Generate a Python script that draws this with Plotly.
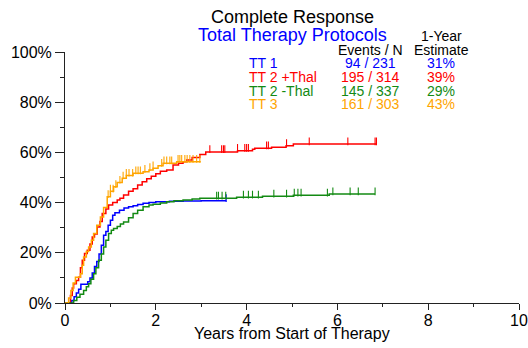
import plotly.graph_objects as go
import bisect

# ---- data ----
series_names = ["TT 1", "TT 2 +Thal", "TT 2 -Thal", "TT 3"]
series_colors = ["#0000FF", "#FF0000", "#138A13", "#FFA500"]
events_n = ["94 / 231", "195 / 314", "145 / 337", "161 / 303"]
one_year = ["31%", "39%", "29%", "43%"]

tt1_t = [0, 0.15, 0.20, 0.25, 0.30, 0.35, 0.50, 0.55, 0.60, 0.65, 0.70, 0.75, 0.80, 0.85, 0.90,
         0.95, 1.00, 1.05, 1.10, 1.20, 1.30, 1.40, 1.50, 1.60, 1.72, 1.85, 2.00, 2.30, 2.60, 3.00, 3.55]
tt1_y = [0, 1.0, 2.5, 4.0, 5.5, 7.5, 8.5, 10, 12, 14.5, 16.5, 19.5, 23, 27, 28.5,
         31, 33, 35, 36, 37, 37.8, 38.3, 38.7, 39.2, 39.7, 40.0, 40.3, 40.5, 40.6, 40.7, 40.7]
tt1_cens = [3.55]

tt2p_t = [0, 0.12, 0.16, 0.19, 0.25, 0.30, 0.34, 0.38, 0.43, 0.49, 0.55, 0.60, 0.65, 0.71, 0.77,
          0.82, 0.90, 0.96, 1.05, 1.15, 1.21, 1.29, 1.40, 1.50, 1.60, 1.70, 1.80, 1.90, 2.00, 2.10,
          2.24, 2.38, 2.50, 2.60, 2.68, 2.80, 2.97, 3.10, 3.80, 4.13, 4.18, 4.55, 4.87, 5.03, 6.87]
tt2p_y = [0, 3, 6, 7.7, 9, 10.3, 14, 17, 19.7, 21, 23.5, 26.3, 27.5, 30.3, 32.5,
          35.7, 37.5, 39, 40, 41, 41.7, 43, 44.5, 45.5, 47, 48.3, 49.5, 50.5, 51.5, 52.5,
          53, 55, 55.7, 56.3, 57, 58, 59.2, 60.2, 60.7, 61.3, 61.7, 62.1, 62.6, 63.3, 63.3]
tt2p_cens = [3.19, 3.45, 3.49, 3.52, 3.80, 3.96, 4.00, 4.04, 4.44, 4.48, 4.88, 5.38, 6.23, 6.83, 6.86]

tt2m_t = [0, 0.19, 0.26, 0.33, 0.41, 0.47, 0.52, 0.57, 0.63, 0.68, 0.74, 0.80, 0.85, 0.90, 0.96,
          1.02, 1.07, 1.15, 1.22, 1.29, 1.40, 1.50, 1.60, 1.72, 1.85, 1.94, 2.10, 2.24, 2.40, 2.60,
          2.80, 2.97, 3.78, 4.35, 5.03, 5.82, 6.83]
tt2m_y = [0, 1.0, 2.3, 3.5, 5.0, 6.5, 7.7, 9.5, 11.7, 14, 17, 19.5, 22.3, 25, 27.7,
          29, 29.7, 30.5, 31.5, 32.3, 34, 35.7, 37, 38.3, 39, 39.3, 39.8, 40.3, 40.7, 41.0,
          41.4, 41.7, 42.1, 42.5, 42.9, 43.4, 43.4]
tt2m_cens = [3.34, 3.38, 3.46, 3.54, 3.93, 4.04, 4.13, 4.26, 4.60, 4.88, 5.05, 5.13, 5.20,
             5.78, 5.90, 6.28, 6.46, 6.83]

tt3_t = [0, 0.08, 0.13, 0.18, 0.23, 0.34, 0.38, 0.41, 0.47, 0.52, 0.58, 0.63, 0.70, 0.78, 0.85,
         0.93, 1.00, 1.07, 1.15, 1.26, 1.35, 1.50, 1.72, 1.85, 1.94, 2.05, 2.16, 2.46, 2.99]
tt3_y = [0, 2, 5, 8, 10.3, 11.7, 15, 18.3, 20.5, 22.3, 25, 27.7, 31, 34.3, 38,
         42.3, 44.5, 46.3, 48, 49.7, 50.8, 51.7, 52.3, 53, 53.7, 54.7, 55.7, 56.3, 56.3]
tt3_cens = [0.95, 1.00, 1.06, 1.12, 1.21, 1.28, 1.35, 1.41, 1.49, 1.56, 1.61, 1.66, 1.76, 1.87,
            1.94, 2.13, 2.18, 2.24, 2.31, 2.35, 2.49, 2.53, 2.57, 2.64, 2.69, 2.75, 2.82, 2.90, 2.97]

x_ticks = [0, 2, 4, 6, 8, 10]
y_ticks = [0, 20, 40, 60, 80, 100]

FONT = "Arial, 'Liberation Sans', sans-serif"

fig = go.Figure()


def step_at(ts, ys, t):
    i = bisect.bisect_right(ts, t) - 1
    return ys[max(i, 0)]


all_series = [(tt1_t, tt1_y, tt1_cens), (tt2p_t, tt2p_y, tt2p_cens),
              (tt2m_t, tt2m_y, tt2m_cens), (tt3_t, tt3_y, tt3_cens)]

for (ts, ys, cens), name, col in zip(all_series, series_names, series_colors):
    fig.add_trace(go.Scatter(x=ts, y=ys, mode="lines", line=dict(color=col, width=1.5, shape="hv"),
                             name=name, showlegend=False, cliponaxis=False))
    cy = [step_at(ts, ys, c) + 1.1 for c in cens]
    fig.add_trace(go.Scatter(x=cens, y=cy, mode="markers",
                             marker=dict(symbol="line-ns", size=5.5, line=dict(color=col, width=1.1)),
                             showlegend=False, hoverinfo="skip"))

W, H = 528, 348
L, R, T, B = 65, 9, 52, 45

ann = []
ann.append(dict(text="Complete Response", x=292, y=17, font=dict(size=18, color="black")))
ann.append(dict(text="Total Therapy Protocols", x=292, y=35, font=dict(size=18, color="#0000FF")))
ann.append(dict(text="1-Year", x=441, y=36, font=dict(size=14, color="black")))
ann.append(dict(text="Events / N", x=370, y=50, font=dict(size=14, color="black")))
ann.append(dict(text="Estimate", x=441, y=50, font=dict(size=14, color="black")))
row_y = [63.5, 77, 90.5, 104]
for i in range(4):
    ann.append(dict(text=series_names[i], x=247, y=row_y[i], xanchor="left",
                    font=dict(size=14, color=series_colors[i])))
    ann.append(dict(text=events_n[i], x=370, y=row_y[i], font=dict(size=14, color=series_colors[i])))
    ann.append(dict(text=one_year[i], x=441, y=row_y[i], font=dict(size=14, color=series_colors[i])))
ann.append(dict(text="Years from Start of Therapy", x=292, y=333, font=dict(size=16, color="black")))

annotations = []
for a in ann:
    d = dict(text=a["text"], xref="paper", yref="paper", showarrow=False,
             xanchor=a.get("xanchor", "center"), yanchor="middle",
             font=dict(family=FONT, **a["font"]))
    d["x"] = (a["x"] - L) / (W - L - R)
    d["y"] = 1 - (a["y"] - T) / (H - T - B)
    annotations.append(d)

fig.update_layout(
    width=W, height=H,
    margin=dict(l=L, r=R, t=T, b=B, autoexpand=False),
    paper_bgcolor="white", plot_bgcolor="white",
    font=dict(family=FONT, size=16, color="black"),
    annotations=annotations,
    showlegend=False,
    xaxis=dict(range=[0, 10], tickvals=x_ticks, ticktext=[str(v) for v in x_ticks],
               showgrid=False, zeroline=False, showline=True, linecolor="#222", linewidth=1,
               ticks="outside", ticklen=6, tickwidth=1, tickcolor="#222", automargin=False,
               ticklabelstandoff=-3,
               minor=dict(dtick=1, ticks="outside", ticklen=3, tickcolor="#222", showgrid=False),
               tickfont=dict(size=16), fixedrange=True),
    yaxis=dict(range=[0, 100], tickvals=y_ticks, ticktext=[f"{v}%" for v in y_ticks],
               showgrid=False, zeroline=False, showline=True, linecolor="#222", linewidth=1,
               ticks="outside", ticklen=9, tickwidth=1, tickcolor="#222", automargin=False,
               minor=dict(dtick=10, ticks="outside", ticklen=4, tickcolor="#222", showgrid=False),
               tickfont=dict(size=16), fixedrange=True),
)

fig.write_html("out.html")
